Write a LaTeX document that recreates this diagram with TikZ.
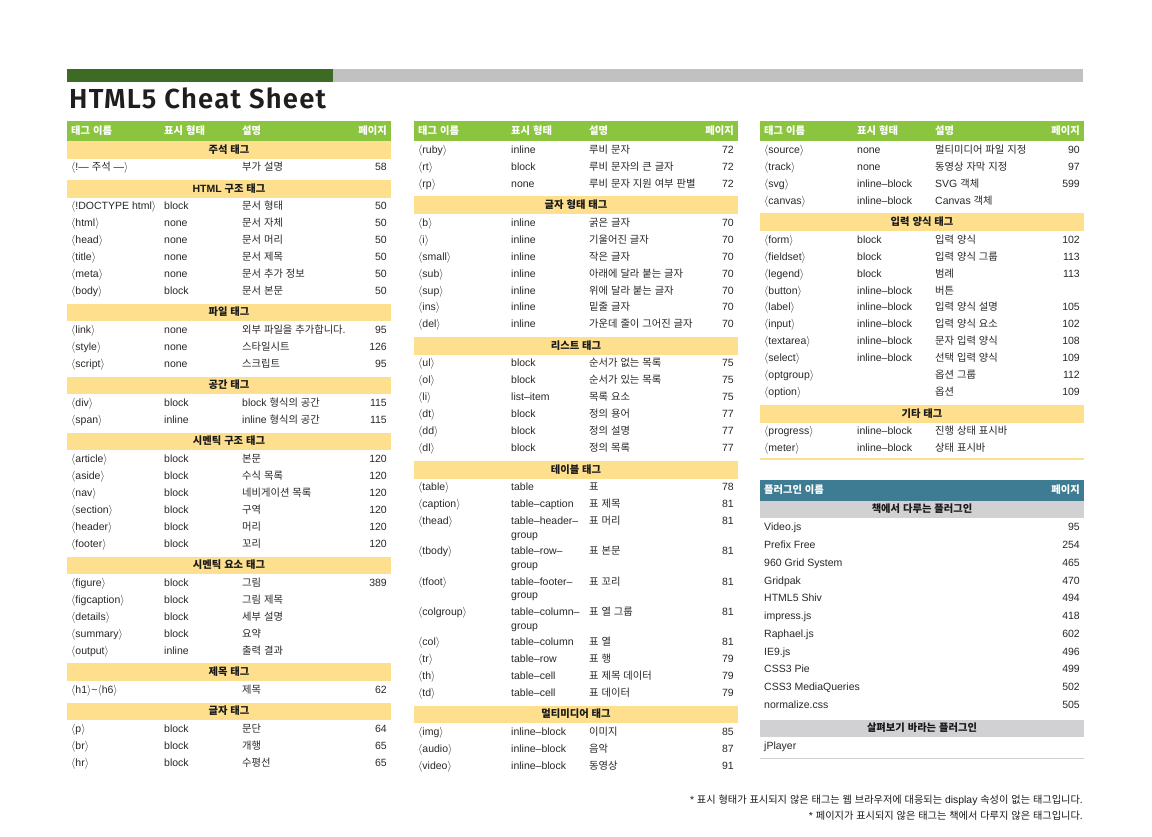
\documentclass[tikz,border=0pt]{standalone}
\usepackage{fontspec}
\setmainfont{Liberation Sans}
\newfontfamily\krfamily{Noto Sans CJK KR}[Scale=0.98]
\newfontfamily\titlefont{Fira Sans SemiBold}[LetterSpace=4.5]
\XeTeXinterchartokenstate=1
\newXeTeXintercharclass\HangulClass
\newcount\hgc
\hgc="AC00
\loop
  \XeTeXcharclass\hgc=\HangulClass
  \ifnum\hgc<"D7A3 \advance\hgc by 1
\repeat
\XeTeXinterchartoks 0 \HangulClass={\krfamily}
\XeTeXinterchartoks 4095 \HangulClass={\krfamily}
\XeTeXinterchartoks \HangulClass 0={\rmfamily}
\XeTeXinterchartoks \HangulClass 4095={\rmfamily}

\definecolor{hgreen}{RGB}{139,197,63}
\definecolor{bargreen}{RGB}{61,107,35}
\definecolor{bargrey}{RGB}{193,193,193}
\definecolor{yband}{RGB}{254,223,142}
\definecolor{plteal}{RGB}{62,124,147}
\definecolor{gband}{RGB}{209,209,211}
\definecolor{txt}{RGB}{40,40,40}
\definecolor{sectxt}{RGB}{25,25,25}
\definecolor{titletxt}{RGB}{30,30,32}

\newcounter{nd}
\newcommand\tg[1]{$\langle$#1$\rangle$}
\newcommand\trow[4]{%
  \stepcounter{nd}%
  \node[cell,anchor=west] (r\thend n) at (\colx+4,\coly) {#1};
  \if\relax\detokenize{#2}\relax\else\node[cell,anchor=west] (r\thend d) at (\colx+97,\coly) {#2};\fi
  \node[cell,anchor=west] (r\thend s) at (\colx+175,\coly) {#3};
  \if\relax\detokenize{#4}\relax\else\node[cell,anchor=east] (r\thend p) at (\colx+320,\coly) {#4};\fi
  \pgfmathsetmacro\ny{\coly+16.95}\xdef\coly{\ny}%
}
\newcommand\trowii[5]{%
  \stepcounter{nd}%
  \node[cell,anchor=west] (r\thend n) at (\colx+4,\coly) {#1};
  \node[cell,anchor=west] (r\thend d) at (\colx+97,\coly) {#2};
  \node[cell,anchor=west] (r\thend e) at (\colx+97,\coly+13.8) {#3};
  \node[cell,anchor=west] (r\thend s) at (\colx+175,\coly) {#4};
  \node[cell,anchor=east] (r\thend p) at (\colx+320,\coly) {#5};
  \pgfmathsetmacro\ny{\coly+30.2}\xdef\coly{\ny}%
}
\newcommand\secband[1]{%
  \pgfmathsetmacro\bt{\coly-4.4}%
  \fill[yband] (\colx,\bt) rectangle ++(324,17.5);
  \stepcounter{nd}%
  \node[scell] (b\thend) at (\colx+162,\bt+8.75) {#1};
  \pgfmathsetmacro\ny{\bt+26.5}\xdef\coly{\ny}%
}
\newcommand\greenhead[1]{%
  \xdef\colx{#1}%
  \fill[hgreen] (#1,121) rectangle ++(324,20);
  \stepcounter{nd}%
  \node[hcell,anchor=west] (h\thend a) at (#1+4,131) {태그 이름};
  \node[hcell,anchor=west] (h\thend b) at (#1+97,131) {표시 형태};
  \node[hcell,anchor=west] (h\thend c) at (#1+175,131) {설명};
  \node[hcell,anchor=east] (h\thend d) at (#1+320,131) {페이지};
  \xdef\coly{150}%
}
\newcommand\prow[2]{%
  \stepcounter{nd}%
  \node[cell,anchor=west] (p\thend n) at (\colx+4,\coly) {#1};
  \node[cell,anchor=east] (p\thend p) at (\colx+320,\coly) {#2};
  \pgfmathsetmacro\ny{\coly+17.75}\xdef\coly{\ny}%
}

\begin{document}
\begin{tikzpicture}[x=1pt,y=-1pt,
  cell/.style={inner sep=0pt, text height=8.5pt, text depth=2pt, font=\fontsize{10.5}{12}\selectfont, text=txt},
  hcell/.style={cell, font=\fontsize{10.5}{12}\selectfont\bfseries, text=white},
  scell/.style={cell, font=\fontsize{10.5}{12}\selectfont\bfseries, text=sectxt},
  note/.style={cell, font=\fontsize{10.4}{12}\selectfont, text=sectxt, anchor=east}]
\useasboundingbox[fill=white] (0,0) rectangle (1152,836);

% top bar and title
\fill[bargrey] (332.5,69) rectangle (1083,82);
\fill[bargreen] (67,69) rectangle (332.5,82);
\node[anchor=base west, inner sep=0pt, font=\titlefont\fontsize{27.5}{30}\selectfont, text=titletxt] (title) at (69,108.3) {HTML5 Cheat Sheet};

% ---------- left column ----------
\greenhead{67}
\xdef\coly{145.4}
\secband{주석 태그}
\trow{\tg{!— 주석 —}}{}{부가 설명}{58}
\secband{HTML 구조 태그}
\trow{\tg{!DOCTYPE html}}{block}{문서 형태}{50}
\trow{\tg{html}}{none}{문서 자체}{50}
\trow{\tg{head}}{none}{문서 머리}{50}
\trow{\tg{title}}{none}{문서 제목}{50}
\trow{\tg{meta}}{none}{문서 추가 정보}{50}
\trow{\tg{body}}{block}{문서 본문}{50}
\secband{파일 태그}
\trow{\tg{link}}{none}{외부 파일을 추가합니다.}{95}
\trow{\tg{style}}{none}{스타일시트}{126}
\trow{\tg{script}}{none}{스크립트}{95}
\secband{공간 태그}
\trow{\tg{div}}{block}{block 형식의 공간}{115}
\trow{\tg{span}}{inline}{inline 형식의 공간}{115}
\secband{시멘틱 구조 태그}
\trow{\tg{article}}{block}{본문}{120}
\trow{\tg{aside}}{block}{수식 목록}{120}
\trow{\tg{nav}}{block}{네비게이션 목록}{120}
\trow{\tg{section}}{block}{구역}{120}
\trow{\tg{header}}{block}{머리}{120}
\trow{\tg{footer}}{block}{꼬리}{120}
\secband{시멘틱 요소 태그}
\trow{\tg{figure}}{block}{그림}{389}
\trow{\tg{figcaption}}{block}{그림 제목}{}
\trow{\tg{details}}{block}{세부 설명}{}
\trow{\tg{summary}}{block}{요약}{}
\trow{\tg{output}}{inline}{출력 결과}{}
\secband{제목 태그}
\trow{\tg{h1}\textasciitilde\tg{h6}}{}{제목}{62}
\secband{글자 태그}
\trow{\tg{p}}{block}{문단}{64}
\trow{\tg{br}}{block}{개행}{65}
\trow{\tg{hr}}{block}{수평선}{65}

% ---------- middle column ----------
\greenhead{414}
\trow{\tg{ruby}}{inline}{루비 문자}{72}
\trow{\tg{rt}}{block}{루비 문자의 큰 글자}{72}
\trow{\tg{rp}}{none}{루비 문자 지원 여부 판별}{72}
\secband{글자 형태 태그}
\trow{\tg{b}}{inline}{굵은 글자}{70}
\trow{\tg{i}}{inline}{기울어진 글자}{70}
\trow{\tg{small}}{inline}{작은 글자}{70}
\trow{\tg{sub}}{inline}{아래에 달라 붙는 글자}{70}
\trow{\tg{sup}}{inline}{위에 달라 붙는 글자}{70}
\trow{\tg{ins}}{inline}{밑줄 글자}{70}
\trow{\tg{del}}{inline}{가운데 줄이 그어진 글자}{70}
\secband{리스트 태그}
\trow{\tg{ul}}{block}{순서가 없는 목록}{75}
\trow{\tg{ol}}{block}{순서가 있는 목록}{75}
\trow{\tg{li}}{list–item}{목록 요소}{75}
\trow{\tg{dt}}{block}{정의 용어}{77}
\trow{\tg{dd}}{block}{정의 설명}{77}
\trow{\tg{dl}}{block}{정의 목록}{77}
\secband{테이블 태그}
\trow{\tg{table}}{table}{표}{78}
\trow{\tg{caption}}{table–caption}{표 제목}{81}
\trowii{\tg{thead}}{table–header–}{group}{표 머리}{81}
\trowii{\tg{tbody}}{table–row–}{group}{표 본문}{81}
\trowii{\tg{tfoot}}{table–footer–}{group}{표 꼬리}{81}
\trowii{\tg{colgroup}}{table–column–}{group}{표 열 그룹}{81}
\trow{\tg{col}}{table–column}{표 열}{81}
\trow{\tg{tr}}{table–row}{표 행}{79}
\trow{\tg{th}}{table–cell}{표 제목 데이터}{79}
\trow{\tg{td}}{table–cell}{표 데이터}{79}
\secband{멀티미디어 태그}
\trow{\tg{img}}{inline–block}{이미지}{85}
\trow{\tg{audio}}{inline–block}{음악}{87}
\trow{\tg{video}}{inline–block}{동영상}{91}

% ---------- right column ----------
\greenhead{760}
\trow{\tg{source}}{none}{멀티미디어 파일 지정}{90}
\trow{\tg{track}}{none}{동영상 자막 지정}{97}
\trow{\tg{svg}}{inline–block}{SVG 객체}{599}
\trow{\tg{canvas}}{inline–block}{Canvas 객체}{}
\secband{입력 양식 태그}
\trow{\tg{form}}{block}{입력 양식}{102}
\trow{\tg{fieldset}}{block}{입력 양식 그룹}{113}
\trow{\tg{legend}}{block}{범례}{113}
\trow{\tg{button}}{inline–block}{버튼}{}
\trow{\tg{label}}{inline–block}{입력 양식 설명}{105}
\trow{\tg{input}}{inline–block}{입력 양식 요소}{102}
\trow{\tg{textarea}}{inline–block}{문자 입력 양식}{108}
\trow{\tg{select}}{inline–block}{선택 입력 양식}{109}
\trow{\tg{optgroup}}{}{옵션 그룹}{112}
\trow{\tg{option}}{}{옵션}{109}
\secband{기타 태그}
\trow{\tg{progress}}{inline–block}{진행 상태 표시바}{}
\trow{\tg{meter}}{inline–block}{상태 표시바}{}
\draw[yband, line width=1.3pt] (760,459) -- (1084,459);

% ---------- plugin table ----------
\fill[plteal] (760,480) rectangle (1084,500.7);
\node[hcell,anchor=west] (plh1) at (764,490.4) {플러그인 이름};
\node[hcell,anchor=east] (plh2) at (1080,490.4) {페이지};
\fill[gband] (760,500.7) rectangle (1084,517.7);
\node[scell] (plb1) at (922,509.2) {책에서 다루는 플러그인};
\xdef\coly{527.7}
\prow{Video.js}{95}
\prow{Prefix Free}{254}
\prow{960 Grid System}{465}
\prow{Gridpak}{470}
\prow{HTML5 Shiv}{494}
\prow{impress.js}{418}
\prow{Raphael.js}{602}
\prow{IE9.js}{496}
\prow{CSS3 Pie}{499}
\prow{CSS3 MediaQueries}{502}
\prow{normalize.css}{505}
\fill[gband] (760,720) rectangle (1084,736.7);
\node[scell] (plb2) at (922,728.4) {살펴보기 바라는 플러그인};
\node[cell,anchor=west] (jp) at (764,746.7) {jPlayer};
\draw[gband, line width=1.3pt] (760,758.3) -- (1084,758.3);

% ---------- footnotes ----------
\node[note] (fn1) at (1083,800.5) {* 표시 형태가 표시되지 않은 태그는 웹 브라우저에 대응되는 display 속성이 없는 태그입니다.};
\node[note] (fn2) at (1083,816.7) {* 페이지가 표시되지 않은 태그는 책에서 다루지 않은 태그입니다.};
\end{tikzpicture}
\end{document}
